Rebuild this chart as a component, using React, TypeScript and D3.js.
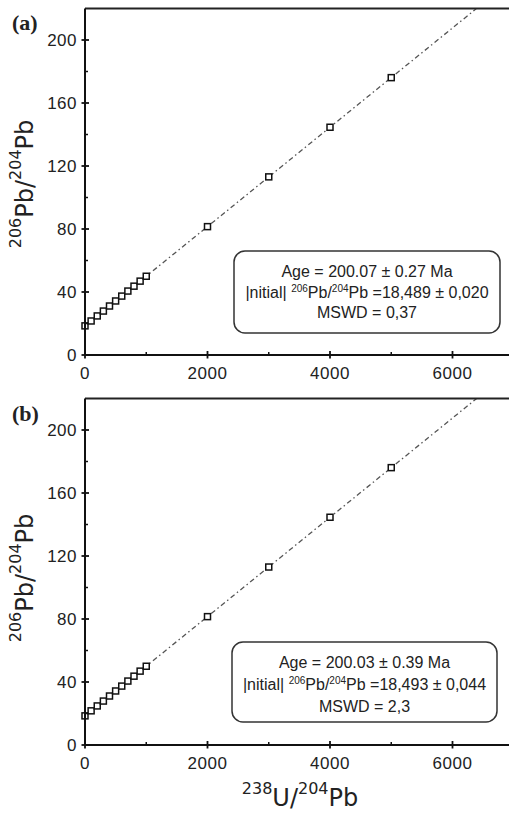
import React from "react";
import * as d3 from "d3";

// ---- data ----
const ratioU = [0, 100, 200, 300, 400, 500, 600, 700, 800, 900, 1000, 2000, 3000, 4000, 5000];
const ratioPbA = [18.5, 21.6, 24.8, 27.9, 31.1, 34.3, 37.4, 40.6, 43.7, 46.9, 50.0, 81.5, 113.1, 144.6, 176.1];
const ratioPbB = [18.5, 21.7, 24.8, 27.9, 31.1, 34.3, 37.4, 40.6, 43.7, 46.9, 50.0, 81.5, 113.0, 144.6, 176.1];
const xMajor = [0, 2000, 4000, 6000];
const xMinor = [1000, 3000, 5000];
const yMajor = [0, 40, 80, 120, 160, 200];
const yMinor = [20, 60, 100, 140, 180];
const boxA = ["Age = 200.07 ± 0.27 Ma", "=18,489 ± 0,020", "MSWD = 0,37"];
const boxB = ["Age = 200.03 ± 0.39 Ma", "=18,493 ± 0,044", "MSWD = 2,3"];

const TICK_FONT = "'Liberation Sans', Arial, sans-serif";
const TITLE_FONT = "'DejaVu Sans', sans-serif";

function fit(xs: number[], ys: number[]) {
  const mx = d3.mean(xs)!;
  const my = d3.mean(ys)!;
  let num = 0, den = 0;
  xs.forEach((x, i) => { num += (x - mx) * (ys[i] - my); den += (x - mx) ** 2; });
  const b = num / den;
  return { a: my - b * mx, b };
}

type PanelProps = {
  id: string;
  yBottom: number;
  yTop: number;
  ys: number[];
  box: string[];
  boxRect: { x: number; y: number; w: number; h: number };
  baselines: number[];
  label: string;
  labelY: number;
  titleY: number;
};

function Panel(p: PanelProps) {
  const x = d3.scaleLinear().domain([0, 7000]).range([85, 513.75]);
  const y = d3.scaleLinear().domain([0, 220]).range([p.yBottom, p.yTop]);
  const { a, b } = fit(ratioU, p.ys);
  const lineGen = d3.line<number>().x((d) => x(d)).y((d) => y(a + b * d));
  const cx = p.boxRect.x + p.boxRect.w / 2;
  return (
    <g>
      <defs>
        <clipPath id={p.id}>
          <rect x={x(0)} y={y(220)} width={x(7000) - x(0)} height={y(0) - y(220)} />
        </clipPath>
      </defs>
      <path d={lineGen([0, 7000]) || ""} fill="none" stroke="#555" strokeWidth={1.3}
        strokeDasharray="5,3,1.5,3" clipPath={`url(#${p.id})`} />
      {ratioU.map((u, i) => (
        <rect key={i} x={x(u) - 3} y={y(p.ys[i]) - 3} width={6} height={6}
          fill="#fff" stroke="#111" strokeWidth={1.5} />
      ))}
      {/* frame */}
      <line x1={x(0)} x2={509} y1={y(220)} y2={y(220)} stroke="#222" strokeWidth={2} />
      <line x1={x(0)} x2={509} y1={y(0)} y2={y(0)} stroke="#111" strokeWidth={2} />
      <line x1={x(0)} x2={x(0)} y1={y(220)} y2={y(0)} stroke="#111" strokeWidth={2} />
      {/* y ticks */}
      {yMajor.map((v) => (
        <g key={v}>
          <line x1={x(0) - 3.5} x2={x(0) + 4} y1={y(v)} y2={y(v)} stroke="#111" strokeWidth={1.8} />
          <text x={77} y={y(v) + 6} textAnchor="end" fontFamily={TICK_FONT} fontSize={17}
            letterSpacing={0.5} fill="#222">{v}</text>
        </g>
      ))}
      {yMinor.map((v) => (
        <line key={v} x1={x(0)} x2={x(0) + 3} y1={y(v)} y2={y(v)} stroke="#111" strokeWidth={1.5} />
      ))}
      {/* x ticks */}
      {xMajor.map((v) => (
        <g key={v}>
          <line x1={x(v)} x2={x(v)} y1={y(0) - 4} y2={y(0) + 3.5} stroke="#111" strokeWidth={1.8} />
          <text x={x(v)} y={y(0) + 24} textAnchor="middle" fontFamily={TICK_FONT} fontSize={17}
            letterSpacing={0.5} fill="#222">{v}</text>
        </g>
      ))}
      {xMinor.map((v) => (
        <line key={v} x1={x(v)} x2={x(v)} y1={y(0) - 3} y2={y(0)} stroke="#111" strokeWidth={1.5} />
      ))}
      {/* y title */}
      <text transform={`translate(33,${p.titleY}) rotate(-90)`} textAnchor="middle"
        fontFamily={TITLE_FONT} fontSize={24} fill="#222">
        <tspan fontSize={16} dy={-12}>206</tspan>
        <tspan dy={12}>Pb/</tspan>
        <tspan fontSize={16} dy={-12}>204</tspan>
        <tspan dy={12}>Pb</tspan>
      </text>
      {/* panel label */}
      <text x={12} y={p.labelY} fontFamily="'Liberation Serif', 'Times New Roman', serif"
        fontWeight="bold" fontSize={22} fill="#222">{p.label}</text>
      {/* info box */}
      <rect x={p.boxRect.x} y={p.boxRect.y} width={p.boxRect.w} height={p.boxRect.h} rx={11}
        fill="#fff" stroke="#333" strokeWidth={1.5} />
      <g fontFamily={TICK_FONT} fontSize={16} fill="#222" textAnchor="middle">
        <text x={cx} y={p.baselines[0]}>{p.box[0]}</text>
        <text x={cx} y={p.baselines[1]}>
          <tspan>|nitial| </tspan>
          <tspan fontSize={10} dy={-6}>206</tspan>
          <tspan dy={6}>Pb/</tspan>
          <tspan fontSize={10} dy={-6}>204</tspan>
          <tspan dy={6}>{"Pb " + p.box[1]}</tspan>
        </text>
        <text x={cx} y={p.baselines[2]}>{p.box[2]}</text>
      </g>
    </g>
  );
}

export default function App() {
  return (
    <svg width={509} height={817} style={{ position: "absolute", left: 0, top: 0, background: "#fff" }}>
      <rect width={509} height={817} fill="#fff" />
      <Panel id="clipA" yBottom={355} yTop={8.5} ys={ratioPbA} box={boxA}
        boxRect={{ x: 234, y: 251, w: 266, h: 82 }} baselines={[276.5, 297.5, 318]}
        label="(a)" labelY={30} titleY={184} />
      <Panel id="clipB" yBottom={745} yTop={398.5} ys={ratioPbB} box={boxB}
        boxRect={{ x: 232, y: 642, w: 265, h: 80 }} baselines={[668, 690, 711.5]}
        label="(b)" labelY={421} titleY={578} />
      <text x={300} y={806} textAnchor="middle" fontFamily={TITLE_FONT} fontSize={24} fill="#222">
        <tspan fontSize={16} dy={-12}>238</tspan>
        <tspan dy={12}>U/</tspan>
        <tspan fontSize={16} dy={-12}>204</tspan>
        <tspan dy={12}>Pb</tspan>
      </text>
    </svg>
  );
}
